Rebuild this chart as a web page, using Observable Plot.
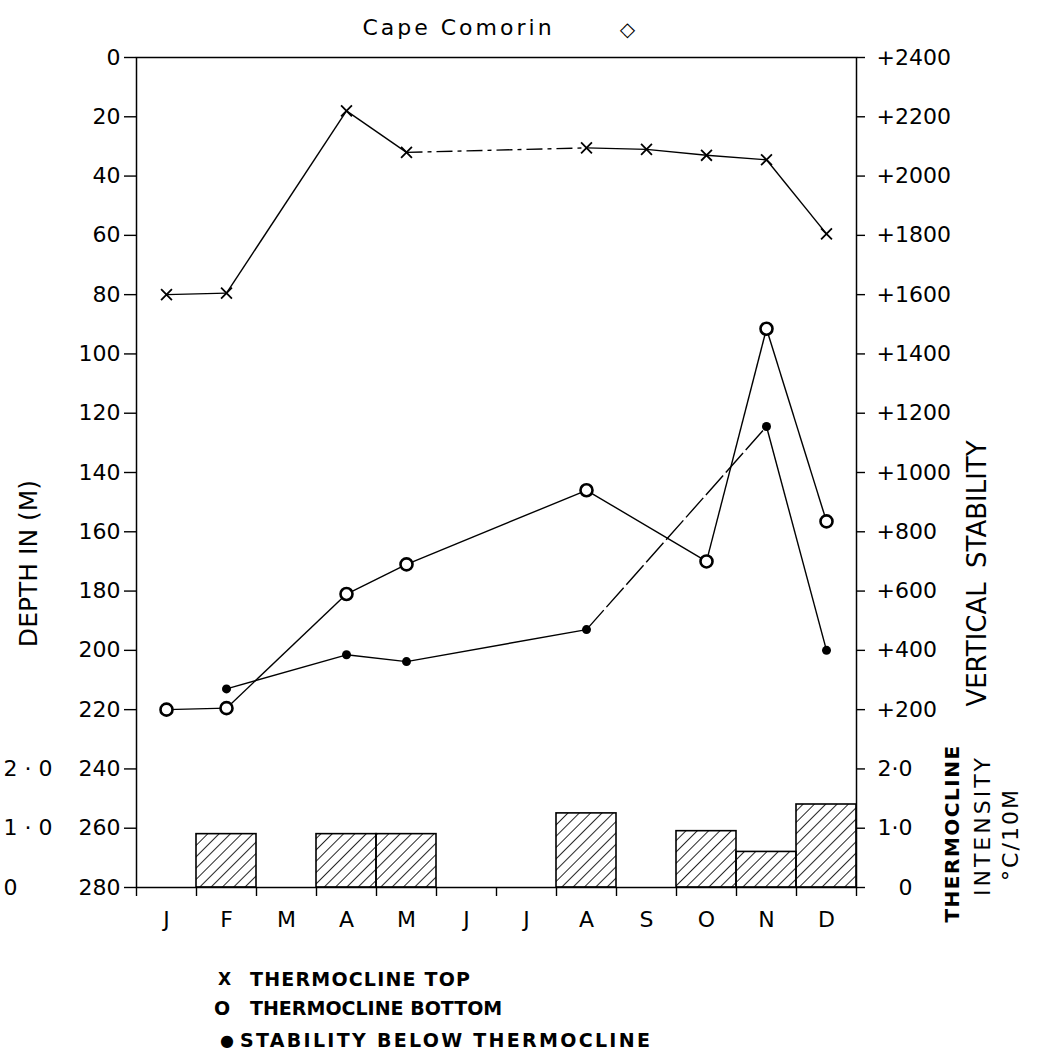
<!DOCTYPE html>
<html>
<head>
<meta charset="utf-8">
<script src="https://cdn.jsdelivr.net/npm/d3@7"></script>
<script src="https://cdn.jsdelivr.net/npm/@observablehq/plot@0.6"></script>
<style>
  body { margin: 0; background: #fff; }
  #wrap { position: relative; width: 1063px; height: 1059px; overflow: hidden; font-family: "DejaVu Sans", sans-serif; color: #000; }
  #chart { position: absolute; left: 0; top: 0; }
  .lg { position: absolute; font-weight: bold; font-size: 19px; line-height: 19px; white-space: nowrap; }
</style>
</head>
<body>
<div id="wrap"><div id="chart"></div></div>
<script>
// ---------- data ----------
const months = ["Jan","Feb","Mar","Apr","May","Jun","Jul","Aug","Sep","Oct","Nov","Dec"];
const monthLetters = ["J","F","M","A","M","J","J","A","S","O","N","D"];
// Thermocline top depth (m)
const thermoTop = [80, 79.5, null, 18, 32, null, null, 30.5, 31, 33, 34.5, 59.5];
// Thermocline bottom depth (m)
const thermoBottom = [220, 219.5, null, 181, 171, null, null, 146, null, 170, 91.5, 156.5];
// Vertical stability below thermocline
const stabilityBelow = [null, 270, null, 385, 362, null, null, 470, null, null, 1155, 400];
// Thermocline intensity (°C / 10 m)
const intensity = [null, 0.9, null, 0.9, 0.9, null, null, 1.25, null, 0.95, 0.6, 1.4];

const depthTicks = [0, 20, 40, 60, 80, 100, 120, 140, 160, 180, 200, 220, 240, 260, 280];
const stabilityTicks = [2400, 2200, 2000, 1800, 1600, 1400, 1200, 1000, 800, 600, 400, 200];
const intensityTicks = [2, 1, 0];
const intensityTickLabels = ["2·0", "1·0", "0"];

const titleText = "Cape Comorin";
const titleMark = "◇";
const depthTitle = "DEPTH IN (M)";
const stabilityTitle = "VERTICAL STABILITY";
const intensityTitle = ["THERMOCLINE", "INTENSITY", "°C/10M"];
const legendSymbols = ["X", "O", "●"];
const legendLabels = ["THERMOCLINE TOP", "THERMOCLINE BOTTOM", "STABILITY BELOW THERMOCLINE"];

// ---------- axis relationships (from the printed scales) ----------
const stabilityToDepth = s => (2400 - s) / 10;      // +2400 at 0 m, +200 at 220 m
const depthToStability = d => Math.round(2400 - 10 * d);
const intensityToDepth = v => 280 - 20 * v;         // 0 at 280 m, 1·0 at 260 m, 2·0 at 240 m

// ---------- build rows ----------
const rows = months.map((name, i) => ({
  m: i + 1, name,
  top: thermoTop[i], bottom: thermoBottom[i],
  stab: stabilityBelow[i], inten: intensity[i]
}));

// segment styles (dash patterns seen in the original drawing)
const segmentDash = { top: { "May-Aug": "16,5,4,5" }, bottom: {}, stab: { "Aug-Nov": "26,4" } };
function segments(key, toDepth) {
  const pts = rows.filter(r => r[key] != null);
  const out = [];
  for (let i = 1; i < pts.length; i++) {
    const a = pts[i - 1], b = pts[i];
    out.push({ x1: a.m, x2: b.m, y1: toDepth(a[key]), y2: toDepth(b[key]),
               dash: segmentDash[key][a.name + "-" + b.name] || null });
  }
  return out;
}
const id = d => d;
const allSegs = [
  ...segments("top", id),
  ...segments("bottom", id),
  ...segments("stab", stabilityToDepth)
];
const dashKinds = [...new Set(allSegs.filter(s => s.dash).map(s => s.dash))];

const boundaries = d3.range(0, months.length + 1).map(i => i + 0.5);

const lineStyle = { stroke: "black", strokeWidth: 1.4 };
const rotTitle = { text: id, rotate: -90, textAnchor: "middle", lineAnchor: "middle" };

const svg = Plot.plot({
  width: 1063,
  height: 960,
  marginLeft: 136,
  marginRight: 207,
  marginTop: 57,
  marginBottom: 73,
  x: { type: "linear", domain: [0.5, 12.5] },
  y: { type: "linear", domain: [0, 280], reverse: true },
  style: { fontFamily: "DejaVu Sans, sans-serif", fontSize: "22px", color: "black", background: "white", overflow: "visible" },
  marks: [
    // thermocline intensity bars
    Plot.rect(rows.filter(r => r.inten != null), {
      x1: r => r.m - 0.5, x2: r => r.m + 0.5,
      y1: 280, y2: r => intensityToDepth(r.inten),
      fill: "url(#hatch)", stroke: "black", strokeWidth: 1.6
    }),
    Plot.frame({ stroke: "black", strokeWidth: 1.5 }),
    // left depth axis
    Plot.axisY({ ticks: depthTicks, anchor: "left", tickSize: 12, tickPadding: 4,
                 tickFormat: d => String(d), label: null, strokeWidth: 1.4 }),
    // left intensity labels
    Plot.text(intensityTicks, { y: intensityToDepth, text: (v, i) => intensityTickLabels[i],
      frameAnchor: "left", dx: -133, textAnchor: "start", lineAnchor: "middle" }),
    // right stability axis
    Plot.axisY({ ticks: stabilityTicks.map(stabilityToDepth), anchor: "right", tickSize: 8, tickPadding: 12,
                 tickFormat: d => "+" + depthToStability(d), label: null, strokeWidth: 1.4 }),
    // right intensity axis
    Plot.axisY({ ticks: intensityTicks.map(intensityToDepth), anchor: "right", tickSize: 8,
                 tickFormat: () => "", label: null, strokeWidth: 1.4 }),
    Plot.text(intensityTicks, { y: intensityToDepth, text: (v, i) => intensityTickLabels[i],
      frameAnchor: "right", dx: 56, textAnchor: "end", lineAnchor: "middle" }),
    // bottom month axis
    Plot.axisX({ ticks: boundaries, tickSize: 9, tickFormat: () => "", label: null, strokeWidth: 1.4 }),
    Plot.axisX({ ticks: rows.map(r => r.m), tickSize: 0, tickPadding: 24,
                 tickFormat: m => monthLetters[m - 1], label: null }),
    // lines
    Plot.link(allSegs.filter(s => !s.dash), { x1: "x1", y1: "y1", x2: "x2", y2: "y2", ...lineStyle }),
    ...dashKinds.map(dk => Plot.link(allSegs.filter(s => s.dash === dk),
      { x1: "x1", y1: "y1", x2: "x2", y2: "y2", ...lineStyle, strokeDasharray: dk })),
    // points
    Plot.dot(rows.filter(r => r.top != null), { x: "m", y: "top", symbol: "times", r: 5, stroke: "black", strokeWidth: 1.8 }),
    Plot.dot(rows.filter(r => r.bottom != null), { x: "m", y: "bottom", r: 6, stroke: "black", strokeWidth: 2.6, fill: "white" }),
    Plot.dot(rows.filter(r => r.stab != null), { x: "m", y: r => stabilityToDepth(r.stab), r: 4.5, fill: "black" }),
    // titles
    Plot.text([titleText], { text: id, frameAnchor: "top", dx: -38, dy: -30, textAnchor: "middle", lineAnchor: "middle", fontSize: 22 }),
    Plot.text([titleMark], { text: id, frameAnchor: "top", dx: 131, dy: -28, textAnchor: "middle", lineAnchor: "middle", fontSize: 20, fontWeight: "bold" }),
    Plot.text([depthTitle], { ...rotTitle, frameAnchor: "left", dx: -108, dy: 91, fontSize: 25 }),
    Plot.text([stabilityTitle], { ...rotTitle, frameAnchor: "right", dx: 121, dy: 101, fontSize: 26 }),
    Plot.text([intensityTitle[0]], { ...rotTitle, frameAnchor: "right", dx: 96, dy: 361, fontSize: 20, fontWeight: "bold" }),
    Plot.text([intensityTitle[1]], { ...rotTitle, frameAnchor: "right", dx: 126, dy: 353, fontSize: 22 }),
    Plot.text([intensityTitle[2]], { ...rotTitle, frameAnchor: "right", dx: 154, dy: 362, fontSize: 22 })
  ]
});

// hatch pattern for the intensity bars
const defs = d3.select(svg).insert("defs", ":first-child");
defs.append("pattern")
  .attr("id", "hatch")
  .attr("patternUnits", "userSpaceOnUse")
  .attr("width", 8).attr("height", 8)
  .attr("patternTransform", "rotate(45)")
  .append("line")
  .attr("x1", 0).attr("y1", 0).attr("x2", 0).attr("y2", 8)
  .attr("stroke", "black").attr("stroke-width", 1.7);

document.getElementById("chart").appendChild(svg);

// text spacing tweaks (style only)
const spacing = {
  [titleText]: ["letter-spacing", "3px"],
  [stabilityTitle]: ["word-spacing", "6px"],
  [intensityTitle[0]]: ["letter-spacing", "1.5px"],
  [intensityTitle[1]]: ["letter-spacing", "3px"],
  [intensityTitle[2]]: ["letter-spacing", "2px"]
};
d3.select(svg).selectAll("text").each(function () {
  const t = this.textContent;
  if (spacing[t]) this.style.setProperty(spacing[t][0], spacing[t][1]);
  if (intensityTickLabels.includes(t) && this.getBoundingClientRect().left < 100) {
    this.style.setProperty("letter-spacing", "7px");
  }
});

// legend below the plot
const legendLayout = [
  { symX: 218, textX: 250, top: 970, ls: 1.2, symSize: 17 },
  { symX: 214, textX: 250, top: 999, ls: 0, symSize: 19 },
  { symX: 220, textX: 240, top: 1031, ls: 2.3, symSize: 16 }
];
const wrap = document.getElementById("wrap");
legendLabels.forEach((label, i) => {
  const L = legendLayout[i];
  const s = document.createElement("div");
  s.className = "lg";
  s.style.left = L.symX + "px"; s.style.top = L.top + "px";
  s.style.fontSize = L.symSize + "px";
  s.textContent = legendSymbols[i];
  wrap.appendChild(s);
  const t = document.createElement("div");
  t.className = "lg";
  t.style.left = L.textX + "px"; t.style.top = L.top + "px";
  t.style.letterSpacing = L.ls + "px";
  t.textContent = label;
  wrap.appendChild(t);
});
</script>
</body>
</html>
